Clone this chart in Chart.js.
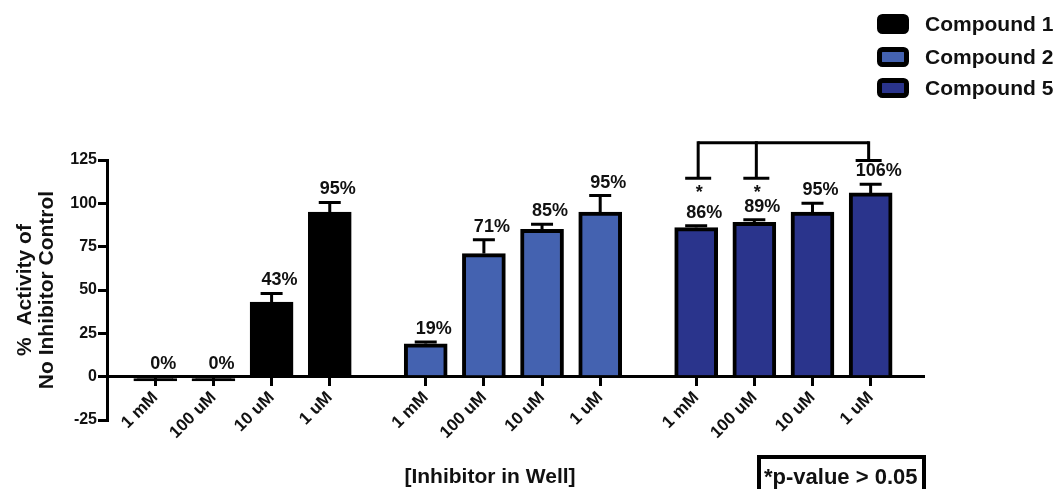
<!DOCTYPE html>
<html>
<head>
<meta charset="utf-8">
<script src="https://cdn.jsdelivr.net/npm/chart.js@4.4.1/dist/chart.umd.min.js"></script>
<style>
  html, body { margin: 0; padding: 0; background: #fff; }
  #wrap { width: 1058px; height: 489px; }
</style>
</head>
<body>
<div id="wrap"><canvas id="myChart" width="1058" height="489"></canvas></div>
<script>
const doseLabels = ['1 mM', '100 uM', '10 uM', '1 uM'];
const compoundNames = ['Compound 1', 'Compound 2', 'Compound 5'];
const compoundColors = ['#000000', '#4462b0', '#2a348c'];

// x slot of every bar, groups have a gap between them
const positions1 = [0, 1, 2, 3];
const positions2 = [4.65, 5.65, 6.65, 7.65];
const positions3 = [9.3, 10.3, 11.3, 12.3];

const values1 = [-2.5, -2.5, 43, 95];
const values2 = [19, 71, 85, 95];
const values3 = [86, 89, 95, 106];

const errors1 = [0, 0, 5, 5.5];
const errors2 = [1, 8, 3, 9.5];
const errors3 = [1, 1.5, 5, 5];

const percent1 = ['0%', '0%', '43%', '95%'];
const percent2 = ['19%', '71%', '85%', '95%'];
const percent3 = ['86%', '89%', '95%', '106%'];

const yTicks = [-25, 0, 25, 50, 75, 100, 125];

// significance bracket over Compound 5
const bracketTop = 135;
const bracketX = [9.3, 10.3, 12.3];
const bracketLegs = [114.5, 114.5, 124.7];
const bracketStars = ['*', '*', ''];

const allPositions = positions1.concat(positions2, positions3);
const FONT = '"Liberation Sans", Arial, Helvetica, sans-serif';

Chart.defaults.font.family = FONT;

function points(xs, ys) {
  return xs.map((x, i) => ({ x, y: ys[i] }));
}

const extras = [
  { errors: errors1, text: percent1 },
  { errors: errors2, text: percent2 },
  { errors: errors3, text: percent3 },
];

const annotations = {
  id: 'annotations',
  afterDatasetsDraw(chart) {
    const { ctx } = chart;
    const xs = chart.scales.x;
    const ys = chart.scales.y;
    ctx.save();
    ctx.strokeStyle = '#000';
    ctx.fillStyle = '#111';
    ctx.lineWidth = 3;
    ctx.lineCap = 'butt';

    // error bars and value labels
    chart.data.datasets.forEach((ds, di) => {
      const meta = chart.getDatasetMeta(di);
      meta.data.forEach((bar, i) => {
        const v = ds.data[i].y;
        const err = extras[di].errors[i];
        const top = Math.max(v, 0) + err;
        const yTop = ys.getPixelForValue(top);
        if (err > 0) {
          ctx.beginPath();
          ctx.moveTo(bar.x, bar.y);
          ctx.lineTo(bar.x, yTop);
          ctx.moveTo(bar.x - 11, yTop);
          ctx.lineTo(bar.x + 11, yTop);
          ctx.stroke();
        }
        ctx.font = 'bold 18px ' + FONT;
        ctx.textAlign = 'center';
        ctx.textBaseline = 'middle';
        ctx.fillText(extras[di].text[i], bar.x + 8, yTop - 13);
      });
    });

    // bracket
    const topPx = ys.getPixelForValue(bracketTop);
    ctx.beginPath();
    ctx.moveTo(xs.getPixelForValue(bracketX[0]) + 2, topPx);
    ctx.lineTo(xs.getPixelForValue(bracketX[bracketX.length - 1]) - 2, topPx);
    ctx.stroke();
    bracketX.forEach((bx, i) => {
      const px = xs.getPixelForValue(bx) + (i < 2 ? 2 : -2);
      const legPx = ys.getPixelForValue(bracketLegs[i]);
      ctx.beginPath();
      ctx.moveTo(px, topPx - 1.5);
      ctx.lineTo(px, legPx);
      ctx.moveTo(px - 13, legPx);
      ctx.lineTo(px + 13, legPx);
      ctx.stroke();
      if (bracketStars[i]) {
        ctx.font = 'bold 18px ' + FONT;
        ctx.textAlign = 'center';
        ctx.textBaseline = 'alphabetic';
        ctx.fillText(bracketStars[i], px + 1, legPx + 20);
      }
    });

    // legend
    const rowCenters = [24, 57, 88];
    compoundNames.forEach((name, i) => {
      const cy = rowCenters[i];
      ctx.beginPath();
      ctx.roundRect(879.5, cy - 7.5, 27, 15, 3);
      ctx.fillStyle = compoundColors[i];
      ctx.fill();
      ctx.lineWidth = 5;
      ctx.strokeStyle = '#000';
      ctx.stroke();
      ctx.fillStyle = '#111';
      ctx.font = 'bold 21px ' + FONT;
      ctx.textAlign = 'left';
      ctx.textBaseline = 'middle';
      ctx.fillText(name, 925, cy + 1);
    });

    // x axis title
    ctx.font = 'bold 21px ' + FONT;
    ctx.textAlign = 'center';
    ctx.textBaseline = 'alphabetic';
    ctx.fillText('[Inhibitor in Well]', 490, 483);

    // p-value box
    ctx.lineWidth = 4;
    ctx.strokeRect(759, 457, 165, 40);
    ctx.font = 'bold 22px ' + FONT;
    ctx.textAlign = 'left';
    ctx.fillText('*p-value > 0.05', 764, 484);

    ctx.restore();
  },
};

const ctx = document.querySelector('#myChart');
// eslint-disable-next-line no-unused-vars
const barChart = new Chart(ctx, {
  type: 'bar',
  data: {
    datasets: [
      { label: compoundNames[0], data: points(positions1, values1), backgroundColor: compoundColors[0] },
      { label: compoundNames[1], data: points(positions2, values2), backgroundColor: compoundColors[1] },
      { label: compoundNames[2], data: points(positions3, values3), backgroundColor: compoundColors[2] },
    ],
  },
  options: {
    responsive: false,
    animation: false,
    layout: { padding: { top: 160, right: 135, bottom: 69, left: 0 } },
    datasets: {
      bar: {
        grouped: false,
        barThickness: 43,
        borderColor: '#000',
        borderWidth: 4,
        borderSkipped: 'start',
      },
    },
    plugins: {
      legend: { display: false },
      tooltip: { enabled: false },
    },
    scales: {
      x: {
        type: 'linear',
        position: { y: 0 },
        offset: false,
        min: -0.83,
        max: 13.2,
        afterBuildTicks: (scale) => {
          scale.ticks = allPositions.map((v) => ({ value: v }));
        },
        ticks: {
          autoSkip: false,
          minRotation: 45,
          maxRotation: 45,
          padding: 3,
          color: '#111',
          font: { size: 17, weight: 'bold' },
          callback: (value) => doseLabels[allPositions.indexOf(value) % 4],
        },
        grid: { offset: false, drawOnChartArea: false, drawTicks: true, tickLength: 8, color: '#000', lineWidth: 3 },
        border: { display: true, color: '#000', width: 3 },
      },
      y: {
        min: -25,
        max: 125,
        afterBuildTicks: (scale) => {
          scale.ticks = yTicks.map((v) => ({ value: v }));
        },
        afterFit: (scale) => {
          scale.width = 107;
        },
        ticks: { padding: 1, color: '#111', font: { size: 16, weight: 'bold' } },
        grid: { drawOnChartArea: false, drawTicks: true, tickLength: 9, color: '#000', lineWidth: 3 },
        border: { display: true, color: '#000', width: 3 },
        title: {
          display: true,
          text: ['%  Activity of', 'No Inhibitor Control'],
          color: '#111',
          font: { size: 21, weight: 'bold', lineHeight: 1.05 },
          padding: { top: 14, bottom: 0 },
        },
      },
    },
  },
  plugins: [annotations],
});
</script>
</body>
</html>
